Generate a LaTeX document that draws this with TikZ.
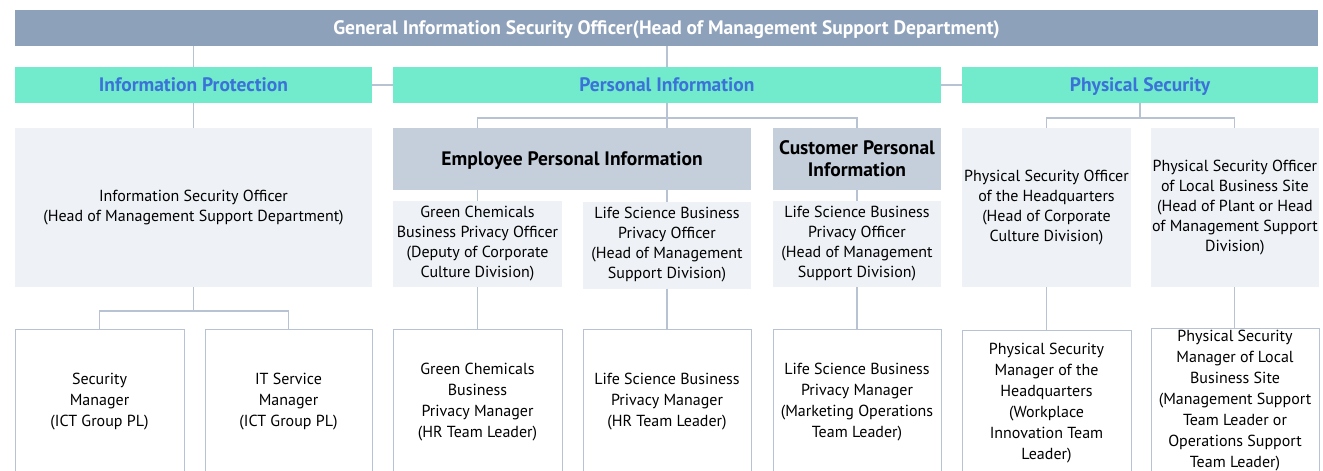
\documentclass[tikz,border=0pt]{standalone}
\usepackage{fontspec}
\setmainfont{PT Sans}
\usetikzlibrary{positioning}

\definecolor{topgray}{HTML}{8EA1BA}
\definecolor{areagreen}{HTML}{72EBCD}
\definecolor{areablue}{HTML}{3A72D8}
\definecolor{groupgray}{HTML}{C5CFDC}
\definecolor{officergray}{HTML}{EEF1F5}
\definecolor{linegray}{HTML}{B7C3D3}

\tikzset{
  chartbox/.style={rectangle, inner sep=1pt, outer sep=0pt, align=center, anchor=north west},
  oneline/.style={text height=13.5pt, text depth=0pt},
  topbar/.style={chartbox, oneline, fill=topgray, text=white, minimum width=1303pt, minimum height=36pt, font=\fontsize{19.5}{22}\selectfont\bfseries},
  area/.style={chartbox, oneline, fill=areagreen, text=areablue, minimum height=36pt, font=\fontsize{19.5}{22}\selectfont\bfseries},
  group/.style={chartbox, fill=groupgray, minimum height=62pt, font=\fontsize{19.5}{22}\selectfont\bfseries},
  officer/.style={chartbox, fill=officergray, font=\fontsize{16}{20}\selectfont},
  staff/.style={chartbox, draw=linegray, line width=1pt, fill=white, minimum height=146pt, font=\fontsize{16}{21}\selectfont},
  link/.style={draw=linegray, line width=1.1pt}
}

\begin{document}
\begin{tikzpicture}
    \useasboundingbox (0,0) rectangle (1323pt,-471pt);
    \clip (0,0) rectangle (1323pt,-471pt);

    %% top and areas
    \node[topbar] (gis) at (15pt,-10pt) {General Information Security Officer(Head of Management Support Department)};
    \node[area, below=21pt of gis.south west, anchor=north west, minimum width=357pt] (ip) {Information Protection};
    \node[area, right=21pt of ip, minimum width=548pt] (pi) {Personal Information};
    \node[area, right=21pt of pi, minimum width=356pt] (ps) {Physical Security};

    %% officers
    \node[officer, below=25pt of ip.south west, anchor=north west, minimum width=357pt, minimum height=159pt] (iso) {Information Security Officer\\(Head of Management Support Department)};
    \node[group, oneline, below=25pt of pi.south west, anchor=north west, minimum width=358pt] (epi) {Employee Personal Information};
    \node[group, right=22pt of epi, minimum width=168pt] (cpi) {Customer Personal\\Information};
    \node[officer, below=11pt of epi.south west, anchor=north west, minimum width=169pt, minimum height=86pt] (gco) {Green Chemicals\\Business Privacy Officer\\(Deputy of Corporate\\Culture Division)};
    \node[officer, right=21pt of gco, yshift=-1pt, minimum width=168pt, minimum height=87pt] (lsco) {Life Science Business\\Privacy Officer\\(Head of Management\\Support Division)};
    \node[officer, below=11pt of cpi, minimum width=168pt, minimum height=86pt] (cpo) {Life Science Business\\Privacy Officer\\(Head of Management\\Support Division)};
    \node[officer, below=25pt of ps.south west, anchor=north west, minimum width=169pt, minimum height=159pt] (hqo) {Physical Security Officer\\of the Headquarters\\(Head of Corporate\\Culture Division)};
    \node[officer, right=20pt of hqo, minimum width=167pt, minimum height=159pt] (lso) {Physical Security Officer\\of Local Business Site\\(Head of Plant or Head\\of Management Support\\Division)};

    %% managers
    \node[staff, below=42pt of iso.south west, anchor=north west, minimum width=169pt] (sm) {Security\\Manager\\(ICT Group PL)};
    \node[staff, right=21pt of sm, minimum width=167pt] (its) {IT Service\\Manager\\(ICT Group PL)};
    \node[staff, below=42pt of gco.south west, anchor=north west, minimum width=169pt] (gcm) {Green Chemicals\\Business\\Privacy Manager\\(HR Team Leader)};
    \node[staff, right=21pt of gcm, minimum width=168pt] (lsm) {Life Science Business\\Privacy Manager\\(HR Team Leader)};
    \node[staff, below=42pt of cpo, minimum width=168pt] (cpm) {Life Science Business\\Privacy Manager\\(Marketing Operations\\Team Leader)};
    \node[staff, below=43pt of hqo.south west, anchor=north west, minimum width=169pt] (hqm) {Physical Security\\Manager of the\\Headquarters\\(Workplace\\Innovation Team\\Leader)};
    \node[staff, right=20pt of hqm, yshift=2pt, minimum width=168pt] (lsm2) {Physical Security\\Manager of Local\\Business Site\\(Management Support\\Team Leader or\\Operations Support\\Team Leader)};

    %% connectors
    \draw[link] (gis.south -| ip.north) -- (ip.north);
    \draw[link] (gis.south -| pi.north) -- (pi.north);
    \draw[link] (ip) -- (pi);
    \draw[link] (pi) -- (ps);
    \draw[link] (ip) -- (iso);
    \draw[link] (pi.south) -- (pi.south |- epi.north);
    \draw[link] (gco.north |- epi.north) -- ++(0,10pt) -| (cpi.north);
    \draw[link] (ps.south) -- ++(0,-15pt);
    \draw[link] (hqo.north) -- ++(0,10pt) -| (lso.north);
    \draw[link] (gco.north |- epi.south) -- (gco.north);
    \draw[link] (lsco.north |- epi.south) -- (lsco.north);
    \draw[link] (cpi) -- (cpo);
    \draw[link] (iso.south) -- ++(0,-24pt);
    \draw[link] (sm.north) -- ++(0,18pt) -| (its.north);
    \draw[link] (gco) -- (gcm);
    \draw[link] (lsco.south) -- (lsco.south |- lsm.north);
    \draw[link] (cpo) -- (cpm);
    \draw[link] (hqo) -- (hqm);
    \draw[link] (lso.south) -- (lso.south |- lsm2.north);
\end{tikzpicture}
\end{document}
